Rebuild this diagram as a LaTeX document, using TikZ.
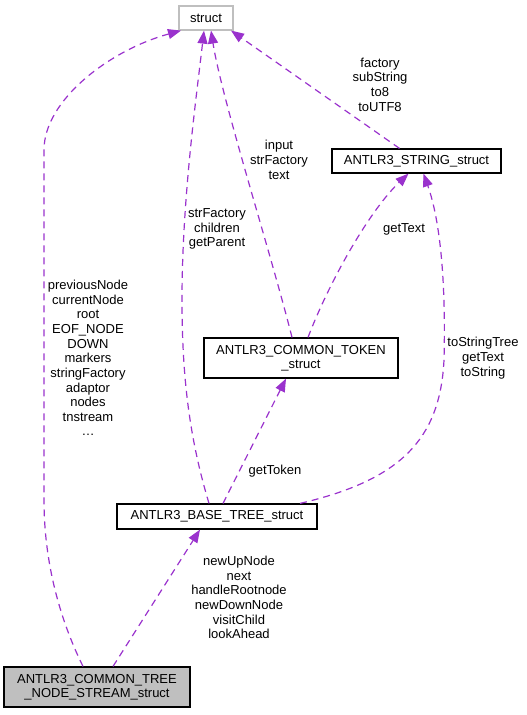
\documentclass[tikz,border=0pt]{standalone}
\usepackage{fontspec}
\setmainfont{Liberation Sans}
\usetikzlibrary{arrows.meta}
\definecolor{edgec}{HTML}{9A32CD}
\definecolor{grayfill}{HTML}{BFBFBF}
\tikzset{
  cls/.style={draw=black, line width=1.2bp, fill=white, inner sep=0pt, align=center,
    font=\fontsize{13bp}{14bp}\selectfont},
  rel/.style={draw=edgec, line width=1.2bp, dash pattern=on 7bp off 5bp,
    -{Triangle[length=13bp,width=10bp,fill=edgec]}},
  lbl/.style={align=center, inner sep=0pt, font=\fontsize{13bp}{14.65bp}\selectfont}
}
\begin{document}
\begin{tikzpicture}[x=1bp,y=-1bp]
\useasboundingbox (0,0) rectangle (527,715);
% nodes
\node[cls, draw=grayfill, minimum width=54bp, minimum height=24bp] (st) at (206,18) {struct};
\node[cls, minimum width=169bp, minimum height=24bp] (str) at (416.5,161) {ANTLR3\_STRING\_struct};
\node[cls, minimum width=194bp, minimum height=40bp] (tok) at (301,358) {ANTLR3\_COMMON\_TOKEN\\\_struct};
\node[cls, minimum width=200bp, minimum height=25bp] (bt) at (217,516.5) {ANTLR3\_BASE\_TREE\_struct};
\node[cls, fill=grayfill, minimum width=186bp, minimum height=40bp] (ns) at (97,687) {ANTLR3\_COMMON\_TREE\\\_NODE\_STREAM\_struct};
% edges
\coordinate (l1) at (44,500);
\coordinate (l2) at (44,150);
\draw[rel] ([xshift=-14bp]ns.north) .. controls (70,640) and (44,580) .. (l1) -- (l2)
   .. controls (44,100) and (110,50) .. ([xshift=-25bp]st.south);
\draw[rel] ([xshift=-8bp]bt.north) .. controls (190,440) and (182,380) .. (182,300)
   .. controls (182,200) and (196,100) .. ([xshift=-2bp]st.south);
\draw[rel] ([xshift=-9bp]tok.north) .. controls (270,250) and (222,100) .. ([xshift=5bp]st.south);
\draw[rel] ([xshift=-17bp]str.north) -- ([xshift=25bp]st.south);
\draw[rel] ([xshift=7bp]tok.north) .. controls (330,280) and (370,210) .. ([xshift=-8bp]str.south);
\draw[rel] ([xshift=83bp]bt.north) .. controls (400,480) and (440,440) .. (444,360)
   .. controls (446,280) and (440,220) .. ([xshift=7bp]str.south);
\draw[rel] ([xshift=6bp]bt.north) -- ([xshift=-15bp]tok.south);
\draw[rel] ([xshift=16bp]ns.north) -- ([xshift=-17bp]bt.south);
% labels
\node[lbl] (la) at (88,358) {previousNode\\currentNode\\root\\EOF\_NODE\\DOWN\\markers\\stringFactory\\adaptor\\nodes\\tnstream\\\dots};
\node[lbl] (lb) at (380,84.5) {factory\\subString\\to8\\toUTF8};
\node[lbl] (lc) at (279,160) {input\\strFactory\\text};
\node[lbl] (ld) at (217,229) {strFactory\\children\\getParent};
\node[lbl] (le) at (404,229) {getText};
\node[lbl] (lf) at (483,358) {toStringTree\\getText\\toString};
\node[lbl] (lg) at (275,471) {getToken};
\node[lbl] (lh) at (239,597.5) {newUpNode\\next\\handleRootnode\\newDownNode\\visitChild\\lookAhead};
\end{tikzpicture}
\end{document}
